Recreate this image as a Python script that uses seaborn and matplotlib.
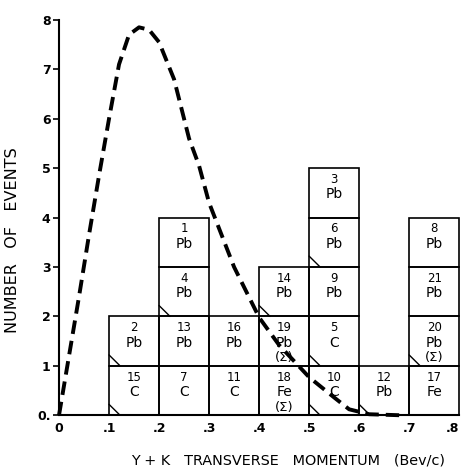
# Y+K transverse momentum histogram (one box per event)

import numpy as np
import pandas as pd
import seaborn as sns
import matplotlib.pyplot as plt

# Events: histogram bin (left edge), stacking level, event no., target
event_id = [15, 2, 7, 13, 4, 1, 11, 16, 18, 19, 14, 10, 5, 9, 6, 3, 12, 17, 20, 21, 8]
bin_left = [.1, .1, .2, .2, .2, .2, .3, .3, .4, .4, .4, .5, .5, .5, .5, .5, .6, .7, .7, .7, .7]
level = [0, 1, 0, 1, 2, 3, 0, 1, 0, 1, 2, 0, 1, 2, 3, 4, 0, 0, 1, 2, 3]
target = ['C', 'Pb', 'C', 'Pb', 'Pb', 'Pb', 'C', 'Pb', 'Fe', 'Pb', 'Pb',
          'C', 'C', 'Pb', 'Pb', 'Pb', 'Pb', 'Fe', 'Pb', 'Pb', 'Pb']
sigma = [0, 0, 0, 0, 0, 0, 0, 0, 1, 1, 0, 0, 0, 0, 0, 0, 0, 0, 1, 0, 0]
marked = [1, 1, 0, 0, 1, 0, 0, 0, 0, 0, 1, 1, 1, 0, 1, 0, 1, 0, 1, 0, 0]

# dashed curve
curve_x = [0, 0.02, 0.04, 0.06, 0.08, 0.10, 0.12, 0.14, 0.16, 0.18, 0.20, 0.23,
           0.26, 0.28, 0.30, 0.35, 0.40, 0.44, 0.50, 0.55, 0.58, 0.62, 0.68]
curve_y = [0, 1.2, 2.4, 3.65, 4.85, 6.0, 7.1, 7.7, 7.85, 7.8, 7.55, 6.8,
           5.6, 5.05, 4.3, 3.0, 1.98, 1.42, 0.77, 0.36, 0.12, 0.02, 0.0]

x_ticks = [0, .1, .2, .3, .4, .5, .6, .7, .8]
x_ticklabels = ['0', '.1', '.2', '.3', '.4', '.5', '.6', '.7', '.8']
y_ticks = [0, 1, 2, 3, 4, 5, 6, 7, 8]
y_ticklabels = ['0.', '1', '2', '3', '4', '5', '6', '7', '8']

df = pd.DataFrame({'id': event_id, 'left': bin_left, 'level': level,
                   'target': target, 'sigma': sigma, 'marked': marked})
curve = pd.DataFrame({'x': curve_x, 'y': curve_y})

sns.set_style('white')
plt.rcParams['font.family'] = ['DejaVu Sans']
plt.rcParams['text.color'] = 'black'
plt.rcParams['axes.labelcolor'] = 'black'
plt.rcParams['xtick.color'] = 'black'
plt.rcParams['ytick.color'] = 'black'

fig = plt.figure(figsize=(4.61, 4.74), dpi=100)
ax = fig.add_axes([0.128, 0.124, 0.868, 0.834])

w = 0.1
ax.bar(df['left'] + w / 2, 1, bottom=df['level'], width=w, fill=False,
       edgecolor='black', linewidth=1.2, clip_on=False)

for _, r in df.iterrows():
    cx = r['left'] + w / 2
    y0 = r['level']
    ax.text(cx, y0 + 0.77, str(r['id']), ha='center', va='center', fontsize=8.5)
    ax.text(cx, y0 + 0.47, r['target'], ha='center', va='center', fontsize=10)
    if r['sigma']:
        ax.text(cx, y0 + 0.16, '(Σ)', ha='center', va='center', fontsize=9.5)
    if r['marked']:
        ax.plot([r['left'], r['left'] + 0.022], [y0 + 0.22, y0],
                color='black', lw=1.0)

sns.lineplot(data=curve, x='x', y='y', ax=ax, color='black', lw=2.8,
             linestyle=(0, (3.5, 1.8)), clip_on=False)

ax.set_xlim(0, 0.8)
ax.set_ylim(0, 8)
ax.set_xticks(x_ticks)
ax.set_xticklabels(x_ticklabels, fontweight='bold', fontsize=9)
ax.get_xticklabels()[-1].set_horizontalalignment('right')
ax.set_yticks(y_ticks)
ax.set_yticklabels(y_ticklabels, fontweight='bold', fontsize=9)
ax.tick_params(axis='x', length=0, pad=5)
ax.tick_params(axis='y', length=4, width=1.2, direction='out', left=True, pad=2)

sns.despine(ax=ax, top=True, right=True)
for s in ['left', 'bottom']:
    ax.spines[s].set_linewidth(1.5)
    ax.spines[s].set_color('black')

ax.set_xlabel('Y + K   TRANSVERSE   MOMENTUM   (Bev/c)', fontsize=10.4)
ax.set_ylabel('NUMBER   OF   EVENTS', fontsize=11.5)
ax.xaxis.set_label_coords(0.573, -0.098)
ax.yaxis.set_label_coords(-0.098, 0.443)

plt.savefig('out.png', dpi=100)
